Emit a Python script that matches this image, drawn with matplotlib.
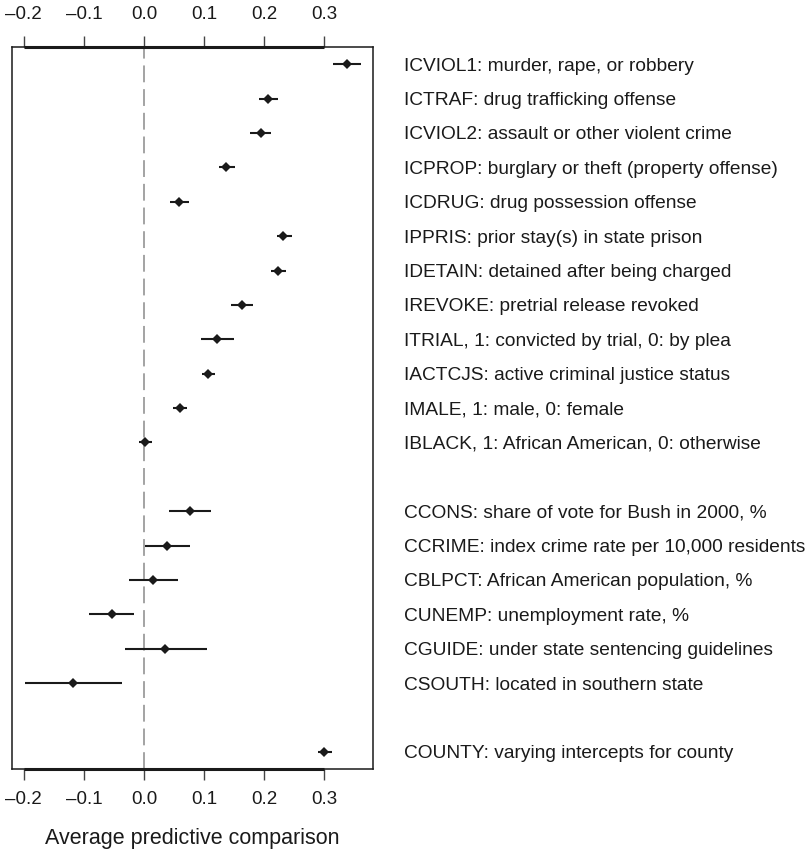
import numpy as np
import matplotlib
matplotlib.use("Agg")
import matplotlib.pyplot as plt
from matplotlib.ticker import FuncFormatter

plt.rcParams["font.family"] = ["Liberation Sans", "DejaVu Sans"]

# predictors, top to bottom
LABELS = [
    "ICVIOL1: murder, rape, or robbery",
    "ICTRAF: drug trafficking offense",
    "ICVIOL2: assault or other violent crime",
    "ICPROP: burglary or theft (property offense)",
    "ICDRUG: drug possession offense",
    "IPPRIS: prior stay(s) in state prison",
    "IDETAIN: detained after being charged",
    "IREVOKE: pretrial release revoked",
    "ITRIAL, 1: convicted by trial, 0: by plea",
    "IACTCJS: active criminal justice status",
    "IMALE, 1: male, 0: female",
    "IBLACK, 1: African American, 0: otherwise",
    "CCONS: share of vote for Bush in 2000, %",
    "CCRIME: index crime rate per 10,000 residents",
    "CBLPCT: African American population, %",
    "CUNEMP: unemployment rate, %",
    "CGUIDE: under state sentencing guidelines",
    "CSOUTH: located in southern state",
    "COUNTY: varying intercepts for county",
]
# row slot of each predictor (blank slots between groups)
ROWS = [0, 1, 2, 3, 4, 5, 6, 7, 8, 9, 10, 11,
        13, 14, 15, 16, 17, 18,
        20]

ESTIMATE = [0.337, 0.207, 0.194, 0.137, 0.058, 0.232, 0.223, 0.163, 0.121,
            0.106, 0.060, 0.001,
            0.077, 0.038, 0.015, -0.054, 0.035, -0.118,
            0.300]
LOWER = [0.314, 0.192, 0.176, 0.124, 0.043, 0.221, 0.212, 0.145, 0.094,
         0.097, 0.049, -0.008,
         0.042, 0.001, -0.025, -0.091, -0.032, -0.198,
         0.289]
UPPER = [0.361, 0.223, 0.212, 0.152, 0.075, 0.246, 0.236, 0.181, 0.149,
         0.118, 0.072, 0.013,
         0.111, 0.076, 0.057, -0.017, 0.104, -0.037,
         0.313]

XTICKS = [-0.2, -0.1, 0.0, 0.1, 0.2, 0.3]

INK = "#1a1a1a"


def fmt_tick(v, pos):
    s = f"{abs(v):.1f}"
    return "\u2013" + s if v < -1e-9 else s


fig = plt.figure(figsize=(8.08, 8.52), dpi=100)
ax = fig.add_axes([0.0149, 0.0974, 0.4468, 0.8474])

ax.hlines(ROWS, LOWER, UPPER, color=INK, linewidth=1.5)
ax.plot(ESTIMATE, ROWS, linestyle="none", marker="D", markersize=5.5,
        color=INK, markeredgewidth=0)

ax.axvline(0.0, color="#8a8a8a", linewidth=1.1, dashes=(11, 4.5), zorder=0)

ax.set_xlim(-0.2196, 0.381)
ax.set_ylim(20.5, -0.5)
ax.set_yticks([])

for spine in ax.spines.values():
    spine.set_linewidth(1.1)
    spine.set_color(INK)

# R-style axis line running from first to last tick
for yy in ax.get_ylim():
    ax.plot([XTICKS[0], XTICKS[-1]], [yy, yy], color=INK, linewidth=2.2,
            clip_on=False, solid_capstyle="butt")

ax.set_xticks(XTICKS)
ax.xaxis.set_major_formatter(FuncFormatter(fmt_tick))
ax.tick_params(axis="x", direction="out", length=8, width=1.0,
               color="#444444", labelsize=13.5, pad=8, labelcolor=INK)

top = ax.secondary_xaxis("top")
top.set_xticks(XTICKS)
top.xaxis.set_major_formatter(FuncFormatter(fmt_tick))
top.tick_params(axis="x", direction="out", length=8, width=1.0,
                color="#444444", labelsize=13.5, pad=9, labelcolor=INK)
top.spines["top"].set_visible(False)

ax.set_xlabel("Average predictive comparison", fontsize=15.5, color=INK,
              labelpad=14)

tr = ax.get_yaxis_transform()
for label, row in zip(LABELS, ROWS):
    ax.text(1.086, row, label, transform=tr, ha="left", va="center_baseline",
            fontsize=13.8, color=INK, clip_on=False)

fig.savefig("out.png", dpi=100)
